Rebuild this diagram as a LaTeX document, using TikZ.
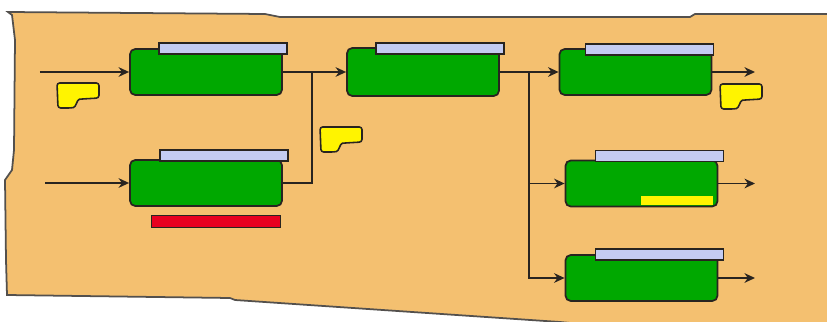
\documentclass[tikz,border=0pt]{standalone}
\usetikzlibrary{positioning,backgrounds,arrows.meta}
\definecolor{paper}{RGB}{244,192,112}
\definecolor{rim}{RGB}{40,36,32}
\definecolor{stagegreen}{RGB}{0,168,0}
\definecolor{lavender}{RGB}{196,204,242}
\definecolor{noteyellow}{RGB}{255,244,0}
\definecolor{alarmred}{RGB}{232,0,32}

\begin{document}
\begin{tikzpicture}[node distance=1.5cm, background rectangle/.style={fill=white}, show background rectangle, inner frame sep=0pt]
    \tikzset{
        stage/.style = {rectangle, rounded corners=3pt, line width=1pt, minimum width=3.04cm, minimum height=0.92cm, inner sep=0pt, draw=rim, fill=stagegreen},
        tag/.style = {rectangle, line width=0.8pt, minimum width=2.56cm, minimum height=0.22cm, inner sep=0pt, draw=rim, fill=lavender},
        flag/.style = {rectangle, line width=0.8pt, minimum width=2.58cm, minimum height=0.24cm, inner sep=0pt, draw=rim, fill=alarmred},
        strip/.style = {rectangle, minimum width=1.44cm, minimum height=0.18cm, inner sep=0pt, fill=noteyellow},
        note/.style = {rounded corners=1.5pt, line width=0.9pt, draw=rim, fill=noteyellow},
        arrow/.style = {line width=0.9pt, draw=rim, ->, >={Stealth[length=6pt, width=5.5pt]}},
        wire/.style = {line width=0.9pt, draw=rim}
    }
    \useasboundingbox (0,0) rectangle (16.54,-6.44);

    % paper sheet
    \draw[fill=paper, draw=rim!80, line width=1pt] (0.16,-0.24) -- (5.30,-0.28) -- (5.60,-0.34) -- (13.80,-0.34) -- (13.90,-0.28) -- (17,-0.28)
        -- (17,-7) -- (11.20,-6.44) -- (4.70,-6.00) -- (4.60,-5.96) -- (0.14,-5.90) -- (0.12,-5.20) -- (0.10,-3.60)
        -- (0.24,-3.40) -- (0.28,-3.00) -- (0.30,-0.80) -- (0.24,-0.30) -- cycle;

    \node (b1) [stage] at (4.12,-1.44) {};
    \node (b2) [stage, below of=b1, yshift=-0.72cm] {};
    \node (b3) [stage, right of=b1, xshift=2.84cm, minimum height=0.96cm] {};
    \node (b4) [stage, right of=b3, xshift=2.75cm] {};
    \node (b5) [stage, below of=b4, xshift=0.12cm, yshift=-0.73cm] {};
    \node (b6) [stage, below of=b5, yshift=-0.39cm] {};

    \node (b1tag) [tag, anchor=north east] at ([xshift=0.1cm, yshift=0.12cm]b1.north east) {};
    \node (b2tag) [tag, anchor=north east] at ([xshift=0.12cm, yshift=0.2cm]b2.north east) {};
    \node (b3tag) [tag, anchor=north east] at ([xshift=0.1cm, yshift=0.1cm]b3.north east) {};
    \node (b4tag) [tag, anchor=north east] at ([xshift=0.04cm, yshift=0.1cm]b4.north east) {};
    \node (b5tag) [tag, anchor=north east] at ([xshift=0.12cm, yshift=0.2cm]b5.north east) {};
    \node (b6tag) [tag, anchor=north east] at ([xshift=0.12cm, yshift=0.12cm]b6.north east) {};

    \node (b2flag) [flag, below=0.16cm of b2, xshift=0.2cm] {};
    \node (b5strip) [strip, anchor=south east] at ([xshift=-0.1cm, yshift=0.04cm]b5.south east) {};

    % notes
    \draw[note, shift={(1.14,-1.66)}] (0,0) -- (0.84,0) -- (0.84,-0.30) -- (0.50,-0.32) .. controls (0.40,-0.33) and (0.38,-0.48) .. (0.28,-0.50) -- (0.02,-0.50) -- cycle;
    \draw[note, shift={(6.40,-2.54)}] (0,0) -- (0.84,0) -- (0.84,-0.30) -- (0.50,-0.32) .. controls (0.40,-0.33) and (0.38,-0.48) .. (0.28,-0.50) -- (0.02,-0.50) -- cycle;
    \draw[note, shift={(14.40,-1.68)}] (0,0) -- (0.84,0) -- (0.84,-0.30) -- (0.50,-0.32) .. controls (0.40,-0.33) and (0.38,-0.48) .. (0.28,-0.50) -- (0.02,-0.50) -- cycle;

    \coordinate[left of=b1, xshift=-1.82cm] (in1);
    \coordinate[left of=b2, xshift=-1.72cm] (in2);
    \coordinate[right of=b1, xshift=0.62cm] (j1);
    \coordinate[right of=b3, xshift=0.62cm] (j2);
    \coordinate[right of=b4, xshift=0.89cm] (out4);
    \coordinate[right of=b5, xshift=0.77cm] (out5);
    \coordinate[right of=b6, xshift=0.77cm] (out6);

    \draw [arrow] (in1) -- (b1);
    \draw [arrow] (in2) -- (b2);
    \draw [arrow] (b1) -- (b3);
    \draw [wire] (b2) -| (j1);
    \draw [arrow] (b3) -- (b4);
    \draw [arrow] (j2) |- (b5);
    \draw [arrow] (j2) |- (b6);
    \draw [arrow] (b4) -- (out4);
    \draw [arrow] (b5) -- (out5);
    \draw [arrow] (b6) -- (out6);
\end{tikzpicture}
\end{document}
